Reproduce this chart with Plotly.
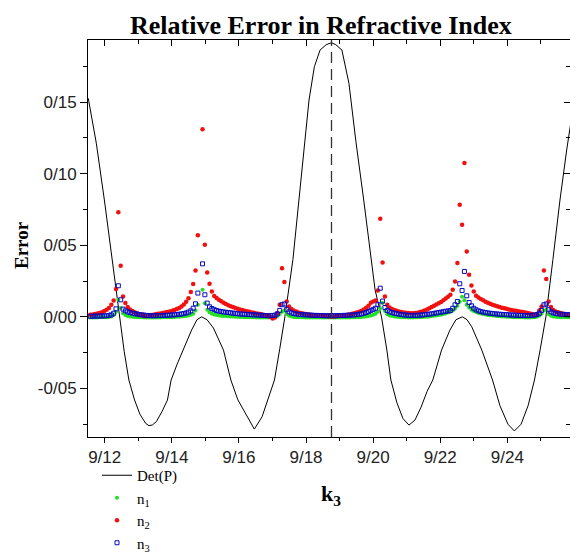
import plotly.graph_objects as go

# ---- sampling grid of k3 (uniform step) ----
K3_START = 9.1157
K3_STEP = 0.000697

# ---- series values (index = grid point) ----
n2_vals = [
    0.0015, 0.0017, 0.0020, 0.0023, 0.0027, 0.0032, 0.0040, 0.0050, 0.0062, 0.0085,
    0.0114, 0.0194, 0.0730, 0.0357, 0.0142, 0.0096, 0.0068, 0.0052, 0.0041, 0.0032,
    0.0025, 0.0018, 0.0012, 0.0006, 0.0004, 0.0008, 0.0012, 0.0015, 0.0018, 0.0021,
    0.0024, 0.0027, 0.0030, 0.0034, 0.0038, 0.0043, 0.0048, 0.0054, 0.0062, 0.0072,
    0.0086, 0.0105, 0.0130, 0.0173, 0.0229, 0.0324, 0.0569, None, 0.1310, 0.0503,
    0.0310, 0.0231, 0.0177, 0.0145, 0.0132, 0.0120, 0.0108, 0.0098, 0.0089, 0.0081,
    0.0074, 0.0068, 0.0062, 0.0057, 0.0052, 0.0047, 0.0043, 0.0039, 0.0035, 0.0031,
    0.0028, 0.0024, 0.0021, 0.0018, 0.0014, 0.0010, 0.0006, 0.0000, -0.0012, -0.0004,
    0.0026, 0.0084, 0.0340, 0.0243, 0.0107, 0.0072, 0.0055, 0.0045, 0.0037, 0.0031,
    0.0027, 0.0023, 0.0020, 0.0017, 0.0015, 0.0013, 0.0011, 0.0010, 0.0008, 0.0007,
    0.0006, 0.0005, 0.0004, 0.0003, 0.0003, 0.0004, 0.0005, 0.0007, 0.0009, 0.0011,
    0.0014, 0.0017, 0.0021, 0.0025, 0.0030, 0.0036, 0.0043, 0.0052, 0.0063, 0.0078,
    0.0098, 0.0107, 0.0114, 0.0184, 0.0685, 0.0380, 0.0142, 0.0084, 0.0065, 0.0055,
    0.0048, 0.0043, 0.0038, 0.0034, 0.0031, 0.0028, 0.0026, 0.0025, 0.0025, 0.0026,
    0.0029, 0.0033, 0.0038, 0.0044, 0.0052, 0.0060, 0.0069, 0.0078, 0.0086, 0.0095,
    0.0104, 0.0116, 0.0128, 0.0140, 0.0154, 0.0189, 0.0247, 0.0376, 0.0783, 0.0643,
    0.1075, 0.0457, 0.0294, 0.0219, 0.0177, 0.0147, 0.0135, 0.0125, 0.0115, 0.0106,
    0.0098, 0.0091, 0.0085, 0.0079, 0.0074, 0.0069, 0.0064, 0.0060, 0.0056, 0.0052,
    0.0048, 0.0045, 0.0042, 0.0039, 0.0036, 0.0033, 0.0030, 0.0027, 0.0024, 0.0020,
    0.0015, 0.0018, 0.0045, 0.0072, 0.0324, 0.0264, 0.0107, 0.0068, 0.0048, 0.0038,
    0.0032, 0.0027, 0.0023, 0.0020, 0.0018, 0.0016,
]

n3_vals = [
    0.0004, 0.0004, 0.0005, 0.0005, 0.0006, 0.0006, 0.0007, 0.0008, 0.0010, 0.0014,
    0.0025, 0.0056, 0.0217, 0.0119, 0.0054, 0.0042, 0.0035, 0.0030, 0.0026, 0.0022,
    0.0019, 0.0016, 0.0014, 0.0012, 0.0010, 0.0009, 0.0008, 0.0008, 0.0008, 0.0009,
    0.0009, 0.0010, 0.0010, 0.0011, 0.0012, 0.0013, 0.0014, 0.0016, 0.0018, 0.0020,
    0.0023, 0.0027, 0.0033, 0.0042, 0.0060, 0.0091, 0.0166, None, 0.0370, 0.0154,
    0.0096, 0.0070, 0.0058, 0.0050, 0.0044, 0.0040, 0.0037, 0.0034, 0.0032, 0.0030,
    0.0028, 0.0026, 0.0024, 0.0022, 0.0020, 0.0019, 0.0018, 0.0017, 0.0016, 0.0015,
    0.0014, 0.0013, 0.0012, 0.0011, 0.0010, 0.0009, 0.0008, 0.0008, 0.0009, 0.0012,
    0.0020, 0.0045, 0.0085, 0.0090, 0.0052, 0.0035, 0.0028, 0.0023, 0.0020, 0.0018,
    0.0016, 0.0015, 0.0014, 0.0013, 0.0012, 0.0011, 0.0010, 0.0010, 0.0009, 0.0009,
    0.0008, 0.0008, 0.0008, 0.0008, 0.0008, 0.0008, 0.0009, 0.0009, 0.0010, 0.0010,
    0.0011, 0.0012, 0.0013, 0.0014, 0.0016, 0.0018, 0.0021, 0.0025, 0.0030, 0.0037,
    0.0045, 0.0052, 0.0060, 0.0085, 0.0200, 0.0110, 0.0065, 0.0045, 0.0035, 0.0030,
    0.0026, 0.0022, 0.0019, 0.0016, 0.0014, 0.0012, 0.0011, 0.0010, 0.0010, 0.0010,
    0.0011, 0.0012, 0.0013, 0.0015, 0.0017, 0.0019, 0.0021, 0.0024, 0.0027, 0.0030,
    0.0033, 0.0036, 0.0039, 0.0041, 0.0044, 0.0060, 0.0084, 0.0107, 0.0231, 0.0184,
    0.0317, 0.0147, 0.0100, 0.0077, 0.0060, 0.0049, 0.0042, 0.0037, 0.0033, 0.0030,
    0.0027, 0.0025, 0.0023, 0.0021, 0.0020, 0.0018, 0.0017, 0.0016, 0.0015, 0.0014,
    0.0013, 0.0012, 0.0011, 0.0010, 0.0010, 0.0009, 0.0009, 0.0009, 0.0009, 0.0010,
    0.0012, 0.0016, 0.0025, 0.0045, 0.0084, 0.0090, 0.0050, 0.0035, 0.0028, 0.0024,
    0.0021, 0.0019, 0.0017, 0.0016, 0.0015, 0.0014,
]

n1_vals = [
    -0.0004, -0.0004, -0.0004, -0.0004, -0.0003, -0.0003, -0.0003, -0.0002, -0.0001, 0.0002,
    0.0012, 0.0035, 0.0120, 0.0062, 0.0025, 0.0012, 0.0006, 0.0002, 0.0000, -0.0001,
    -0.0002, -0.0003, -0.0003, -0.0004, -0.0004, -0.0004, -0.0004, -0.0004, -0.0004, -0.0004,
    -0.0004, -0.0003, -0.0003, -0.0003, -0.0002, -0.0002, -0.0001, 0.0000, 0.0001, 0.0002,
    0.0004, 0.0006, 0.0009, 0.0014, 0.0022, 0.0045, 0.0085, None, 0.0190, 0.0095,
    0.0050, 0.0032, 0.0022, 0.0016, 0.0012, 0.0010, 0.0008, 0.0006, 0.0005, 0.0004,
    0.0003, 0.0002, 0.0001, 0.0000, -0.0001, -0.0001, -0.0002, -0.0002, -0.0003, -0.0003,
    -0.0003, -0.0004, -0.0004, -0.0004, -0.0004, -0.0004, -0.0004, -0.0004, -0.0003, -0.0001,
    0.0006, 0.0020, 0.0035, 0.0044, 0.0020, 0.0008, 0.0002, -0.0001, -0.0002, -0.0003,
    -0.0003, -0.0003, -0.0004, -0.0004, -0.0004, -0.0004, -0.0004, -0.0004, -0.0004, -0.0004,
    -0.0004, -0.0004, -0.0004, -0.0004, -0.0004, -0.0004, -0.0004, -0.0004, -0.0004, -0.0004,
    -0.0004, -0.0004, -0.0003, -0.0003, -0.0003, -0.0002, -0.0001, 0.0000, 0.0003, 0.0006,
    0.0010, 0.0015, 0.0022, 0.0035, 0.0060, 0.0096, 0.0040, 0.0018, 0.0010, 0.0005,
    0.0002, 0.0000, -0.0001, -0.0002, -0.0003, -0.0003, -0.0004, -0.0004, -0.0004, -0.0003,
    -0.0003, -0.0002, -0.0001, 0.0000, 0.0001, 0.0003, 0.0005, 0.0007, 0.0009, 0.0012,
    0.0015, 0.0019, 0.0024, 0.0030, 0.0036, 0.0045, 0.0058, 0.0078, 0.0105, 0.0140,
    0.0115, 0.0085, 0.0065, 0.0050, 0.0040, 0.0033, 0.0027, 0.0023, 0.0019, 0.0016,
    0.0013, 0.0011, 0.0009, 0.0007, 0.0005, 0.0004, 0.0003, 0.0002, 0.0001, 0.0000,
    -0.0001, -0.0002, -0.0002, -0.0003, -0.0003, -0.0003, -0.0004, -0.0004, -0.0004, -0.0003,
    -0.0002, 0.0000, 0.0008, 0.0022, 0.0045, 0.0049, 0.0020, 0.0008, 0.0002, 0.0000,
    -0.0001, -0.0002, -0.0002, -0.0003, -0.0003, -0.0003,
]

k3 = [K3_START + i * K3_STEP for i in range(len(n2_vals))]

# ---- Det(P) curve ----
det_k3 = [
    9.1151, 9.1175, 9.1199, 9.1246, 9.1258, 9.1272, 9.1289, 9.1305, 9.1322, 9.1332,
    9.1342, 9.1354, 9.1371, 9.1387, 9.1398, 9.1416, 9.1434, 9.1459, 9.1475, 9.1489,
    9.1505, 9.1524, 9.1554, 9.1576, 9.1597, 9.1624, 9.1646, 9.1669, 9.1687, 9.1706,
    9.1722, 9.1737, 9.1761, 9.1782, 9.1809, 9.1825, 9.1842, 9.1860, 9.1876, 9.1889,
    9.1907, 9.1928, 9.1949, 9.1972, 9.2006, 9.2025, 9.2041, 9.2053, 9.2071, 9.2089,
    9.2107, 9.2125, 9.2143, 9.2161, 9.2178, 9.2204, 9.2229, 9.2247, 9.2266, 9.2280,
    9.2294, 9.2324, 9.2356, 9.2378, 9.2402, 9.2421, 9.2441, 9.2462, 9.2481, 9.2498,
    9.2515, 9.2536, 9.2557, 9.2577, 9.2589,
]
det_vals = [
    0.1526, 0.1212, 0.0816, 0.0000, -0.0240, -0.0441, -0.0581, -0.0680, -0.0744, -0.0760,
    -0.0755, -0.0732, -0.0660, -0.0581, -0.0441, -0.0330, -0.0232, -0.0092, -0.0020, 0.0000,
    -0.0020, -0.0078, -0.0232, -0.0441, -0.0580, -0.0698, -0.0784, -0.0698, -0.0580, -0.0441,
    -0.0220, 0.0000, 0.0400, 0.0910, 0.1514, 0.1747, 0.1863, 0.1900, 0.1914, 0.1900,
    0.1863, 0.1630, 0.1220, 0.0816, 0.0187, 0.0000, -0.0232, -0.0441, -0.0600, -0.0710,
    -0.0756, -0.0720, -0.0630, -0.0520, -0.0441, -0.0232, -0.0092, -0.0020, 0.0000, -0.0020,
    -0.0069, -0.0232, -0.0441, -0.0620, -0.0750, -0.0797, -0.0750, -0.0620, -0.0441, -0.0230,
    0.0000, 0.0400, 0.0816, 0.1165, 0.1350,
]

marker_k3 = [9.1876]

x_tick_vals = [9.12, 9.14, 9.16, 9.18, 9.20, 9.22, 9.24]
x_tick_text = ["9/12", "9/14", "9/16", "9/18", "9/20", "9/22", "9/24"]
x_minor_vals = [9.13, 9.15, 9.17, 9.19, 9.21, 9.23, 9.25]
y_tick_vals = [-0.05, 0.0, 0.05, 0.10, 0.15]
y_tick_text = ["-0/05", "0/00", "0/05", "0/10", "0/15"]
y_minor_vals = [-0.075, -0.025, 0.025, 0.075, 0.125, 0.175]

X_RANGE = [9.11502, 9.25869]
Y_RANGE = [-0.0839, 0.1933]

SERIF = "Liberation Serif, Times New Roman, serif"
SANS = "Liberation Sans, Arial, sans-serif"

fig = go.Figure()
fig.add_trace(go.Scatter(x=det_k3, y=det_vals, mode="lines", name="Det(P)",
                         line=dict(color="black", width=1)))
fig.add_trace(go.Scatter(x=k3, y=n1_vals, mode="markers", name="n<sub>1</sub>",
                         marker=dict(color="#22e022", size=4, symbol="circle")))
fig.add_trace(go.Scatter(x=k3, y=n2_vals, mode="markers", name="n<sub>2</sub>",
                         marker=dict(color="#f01010", size=4.5, symbol="circle")))
fig.add_trace(go.Scatter(x=k3, y=n3_vals, mode="markers", name="n<sub>3</sub>",
                         marker=dict(color="#0a0ac0", size=4, symbol="square-open",
                                     line=dict(width=1, color="#0a0ac0"))))
# helper trace for the mirrored (top/right) axes
fig.add_trace(go.Scatter(x=[], y=[], xaxis="x2", yaxis="y2", showlegend=False,
                         hoverinfo="skip"))

fig.add_shape(type="line", xref="x", yref="paper", x0=marker_k3[0], x1=marker_k3[0],
              y0=0, y1=1, line=dict(color="#333333", width=1.3, dash="11px,6px"))

fig.update_layout(
    width=570, height=559,
    margin=dict(l=88, r=0, t=40, b=122, autoexpand=False),
    paper_bgcolor="white", plot_bgcolor="white",
    title=dict(text="<b>Relative Error in Refractive Index</b>",
               font=dict(family=SERIF, size=26, color="black"),
               xref="container", yref="container", x=0.563, y=1 - 25 / 559,
               xanchor="center", yanchor="middle"),
    xaxis=dict(range=X_RANGE, showgrid=False, zeroline=False,
               showline=True, linecolor="black", linewidth=1,
               tickmode="array", tickvals=x_tick_vals, ticktext=x_tick_text,
               ticks="outside", ticklen=5, tickcolor="black", tickwidth=1,
               tickfont=dict(family=SANS, size=17, color="#222222"),
               minor=dict(tickmode="array", tickvals=x_minor_vals, ticks="outside",
                          ticklen=3, tickcolor="black")),
    yaxis=dict(range=Y_RANGE, showgrid=False, zeroline=False,
               showline=True, linecolor="black", linewidth=1,
               tickmode="array", tickvals=y_tick_vals, ticktext=y_tick_text,
               ticks="outside", ticklen=7, tickcolor="black", tickwidth=1,
               tickfont=dict(family=SANS, size=17, color="#222222"),
               minor=dict(tickmode="array", tickvals=y_minor_vals, ticks="outside",
                          ticklen=4, tickcolor="black")),
    xaxis2=dict(range=X_RANGE, overlaying="x", side="top", anchor="y",
                showgrid=False, zeroline=False, showline=True, linecolor="black",
                tickmode="array", tickvals=x_tick_vals, showticklabels=False,
                ticks="inside", ticklen=6, tickcolor="black",
                minor=dict(tickmode="array", tickvals=x_minor_vals, ticks="inside",
                           ticklen=4, tickcolor="black")),
    yaxis2=dict(range=Y_RANGE, overlaying="y", side="right", anchor="x",
                showgrid=False, zeroline=False, showline=False,
                tickmode="array", tickvals=y_tick_vals, showticklabels=False,
                ticks="inside", ticklen=6, tickcolor="black",
                minor=dict(tickmode="array", tickvals=y_minor_vals, ticks="inside",
                           ticklen=4, tickcolor="black")),
    legend=dict(x=0.0187, y=-0.0554, xanchor="left", yanchor="top",
                bgcolor="rgba(0,0,0,0)", font=dict(family=SERIF, size=15, color="black"),
                tracegroupgap=0, itemwidth=30),
    showlegend=True,
    annotations=[
        dict(text="<b>Error</b>", xref="paper", yref="paper",
             x=(22 - 88) / 482, y=(437 - 245) / 397, textangle=-90,
             showarrow=False, xanchor="center", yanchor="middle",
             font=dict(family=SERIF, size=19, color="black")),
        dict(text="<b>k<sub>3</sub></b>", xref="paper", yref="paper",
             x=(331 - 88) / 482, y=(437 - 495) / 397,
             showarrow=False, xanchor="center", yanchor="middle",
             font=dict(family=SERIF, size=22, color="black")),
    ],
)

fig.write_html("out.html")
